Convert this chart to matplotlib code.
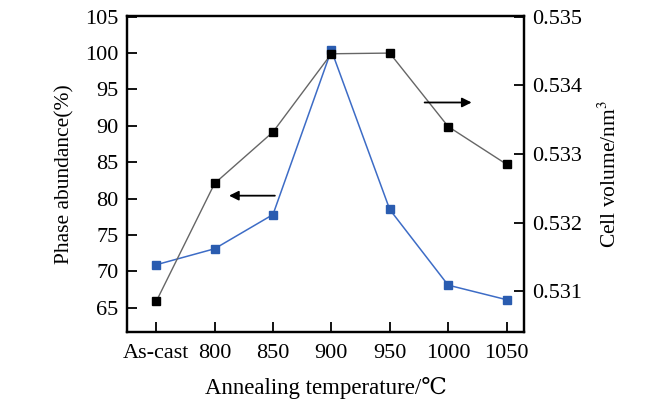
import matplotlib.pyplot as plt

# data
categories = ['As-cast', '800', '850', '900', '950', '1000', '1050']
phase_abundance = [70.9, 73.1, 77.8, 100.4, 78.5, 68.1, 66.1]
cell_volume = [0.53085, 0.53257, 0.53332, 0.53446, 0.53447, 0.53340, 0.53285]
left_ticks = [65, 70, 75, 80, 85, 90, 95, 100, 105]
right_ticks = [0.531, 0.532, 0.533, 0.534, 0.535]

plt.rcParams['font.family'] = ['Liberation Serif', 'DejaVu Serif']
plt.rcParams['mathtext.fontset'] = 'stix'
plt.rcParams['font.size'] = 16

fig = plt.figure(figsize=(6.65, 4.11), dpi=100)
ax = fig.add_axes([0.191, 0.193, 0.597, 0.768])
ax2 = ax.twinx()

x = list(range(len(categories)))

# phase abundance (blue, left axis)
ax.plot(x, phase_abundance, color='#3d6cc6', lw=1.1, marker='s', ms=5.5,
        mfc='#2a5cb0', mec='#2a5cb0', zorder=3)
# cell volume (black, right axis)
ax2.plot(x, cell_volume, color='#666666', lw=1.0, marker='s', ms=5.5,
         mfc='black', mec='black', zorder=3)

ax.set_xlim(-0.5, 6.3)
ax.set_ylim(61.7, 105.1)
ax2.set_ylim(0.53041, 0.53501)

ax.set_xticks(x)
ax.set_xticklabels(categories)
ax.set_yticks(left_ticks)
ax2.set_yticks(right_ticks)
ax2.set_yticklabels(['0.531', '0.532', '0.533', '0.534', '0.535'])

for a in (ax, ax2):
    a.tick_params(direction='in', length=7, width=1.3, pad=6, labelsize=16)
    for s in a.spines.values():
        s.set_linewidth(1.6)
ax.tick_params(axis='x', pad=9)

ax.set_xlabel('Annealing temperature/℃', fontsize=16.5, labelpad=10)
ax.set_ylabel('Phase abundance(%)', fontsize=15.5, labelpad=8)
ax2.set_ylabel('Cell volume/nm$^{3}$', fontsize=15.5, labelpad=12)

# arrows pointing to the matching axis
ax.annotate('', xy=(1.2, 80.4), xytext=(2.08, 80.4),
            arrowprops=dict(arrowstyle='-|>', color='black', lw=1.3, mutation_scale=14))
ax2.annotate('', xy=(5.45, 0.53375), xytext=(4.55, 0.53375),
             arrowprops=dict(arrowstyle='-|>', color='black', lw=1.3, mutation_scale=14))

plt.savefig('out.png', dpi=100)
